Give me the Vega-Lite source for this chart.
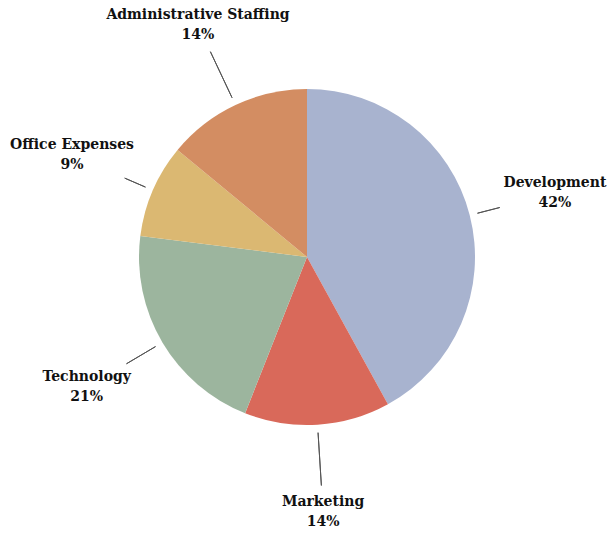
{
  "$schema": "https://vega.github.io/schema/vega-lite/v6.json",
  "width": 604,
  "height": 514,
  "autosize": "none",
  "padding": {"left": 5, "top": 0, "right": 0, "bottom": 20},
  "background": "white",
  "view": {"stroke": null},
  "data": {
    "values": [
      {"category": "Development", "value": 42},
      {"category": "Marketing", "value": 14},
      {"category": "Technology", "value": 21},
      {"category": "Office Expenses", "value": 9},
      {"category": "Administrative Staffing", "value": 14}
    ]
  },
  "transform": [
    {"window": [{"op": "sum", "field": "value", "as": "cum"}], "frame": [null, 0]},
    {"calculate": "datum.cum - datum.value", "as": "start"},
    {"calculate": "datum.cum - datum.value / 2", "as": "mid"},
    {"calculate": "datum.category + '\\n' + datum.value + '%'", "as": "label"},
    {"calculate": "256 - min(length(datum.category) * 4.4 / max(abs(sin(datum.mid / 100 * 2 * PI)), 0.001), 20 / max(abs(cos(datum.mid / 100 * 2 * PI)), 0.001)) - 7", "as": "rEnd"}
  ],
  "layer": [
    {
      "mark": {"type": "arc", "stroke": null},
      "encoding": {
        "theta": {"field": "start", "type": "quantitative", "scale": {"domain": [0, 100]}, "stack": null},
        "theta2": {"field": "cum"},
        "radius": {"value": 168},
        "color": {
          "field": "category",
          "type": "nominal",
          "legend": null,
          "scale": {
            "domain": ["Development", "Marketing", "Technology", "Office Expenses", "Administrative Staffing"],
            "range": ["#a8b3cf", "#d9695a", "#9cb59e", "#dbb872", "#d38d62"]
          }
        }
      }
    },
    {
      "mark": {"type": "arc", "stroke": "#555555", "strokeWidth": 1, "fill": null},
      "encoding": {
        "theta": {"field": "mid", "type": "quantitative", "scale": {"domain": [0, 100]}, "stack": null},
        "theta2": {"field": "mid"},
        "radius": {"field": "rEnd", "type": "quantitative", "scale": null},
        "radius2": {"value": 176}
      }
    },
    {
      "mark": {"type": "text", "font": "DejaVu Serif", "fontWeight": "bold", "fontSize": 14, "lineBreak": "\n", "lineHeight": 20, "align": "center", "baseline": "middle", "dy": -10, "color": "#111111"},
      "encoding": {
        "theta": {"field": "mid", "type": "quantitative", "scale": {"domain": [0, 100]}, "stack": null},
        "radius": {"value": 256},
        "text": {"field": "label"}
      }
    }
  ]
}
